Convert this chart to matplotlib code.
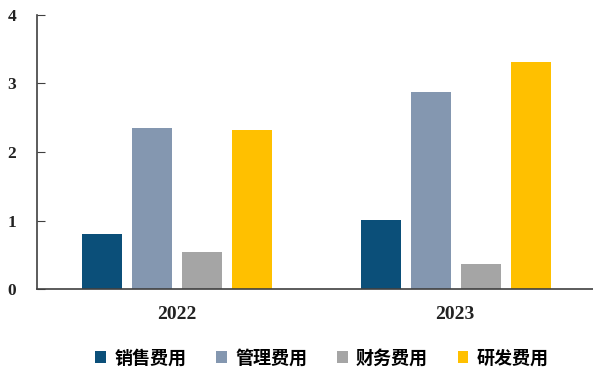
import numpy as np
import matplotlib.pyplot as plt

plt.rcParams['font.family'] = ['Liberation Serif', 'Noto Sans CJK SC']

years = ['2022', '2023']
series = ['销售费用', '管理费用', '财务费用', '研发费用']
values = [
    [0.80, 1.01],
    [2.35, 2.88],
    [0.54, 0.37],
    [2.32, 3.31],
]
colors = ['#0b4f79', '#8497b0', '#a5a5a5', '#ffc000']

fig = plt.figure(figsize=(5.93, 3.71), dpi=100)
ax = fig.add_axes([0.0624, 0.221, 0.94, 0.7386])

x = np.arange(len(years))
w = 0.143
step = 0.179
for i, (name, vals, c) in enumerate(zip(series, values, colors)):
    ax.bar(x + (i - 1.5) * step + 0.003, vals, w, color=c, label=name)

ax.set_xlim(-0.5, 1.5)
ax.set_ylim(0, 4)
ax.set_yticks([0, 1, 2, 3, 4])
ax.set_xticks(x)
ax.set_xticklabels(years)
for s in ['top', 'right']:
    ax.spines[s].set_visible(False)
for s in ['left', 'bottom']:
    ax.spines[s].set_color('#404040')
    ax.spines[s].set_linewidth(1.2)
ax.tick_params(axis='y', direction='in', length=6, color='#404040', pad=15)
ax.tick_params(axis='x', length=0, pad=12)
for lab in ax.get_yticklabels():
    lab.set_fontsize(12.5)
    lab.set_fontweight('bold')
    lab.set_color('#222222')
for lab in ax.get_xticklabels():
    lab.set_fontsize(14)
    lab.set_fontweight('bold')
    lab.set_color('#222222')

fig.legend(loc='center', bbox_to_anchor=(0.543, 0.035), ncol=4, frameon=False,
           handlelength=0.6, handleheight=0.6, handletextpad=0.45, columnspacing=1.65,
           prop={'family': ['Noto Sans CJK SC'], 'weight': 'bold', 'size': 13})

fig.savefig('out.png', dpi=100)
